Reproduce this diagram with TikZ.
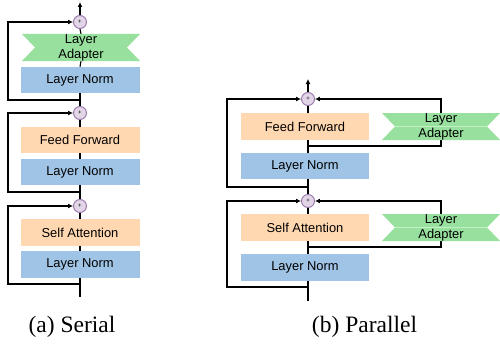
\documentclass[tikz,border=0pt]{standalone}
\usepackage{fontspec}
\setmainfont{Liberation Serif}
\newfontfamily\sansf{Liberation Sans}
\usetikzlibrary{arrows.meta}
\pgfdeclarelayer{bg}
\pgfdeclarelayer{mid}
\pgfsetlayers{bg,mid,main}
\definecolor{lnblue}{RGB}{160,196,230}
\definecolor{ffora}{RGB}{255,216,178}
\definecolor{adgreen}{RGB}{152,224,158}
\definecolor{adline}{RGB}{196,240,198}
\definecolor{cfill}{RGB}{225,213,231}
\definecolor{cdraw}{RGB}{150,115,166}
\newcommand\myribbon[2]{%
  \begin{pgfonlayer}{mid}
    \fill[adgreen] (#1.north west) -- (#1.north east) -- ([xshift=-13pt]#1.east) -- (#1.south east) -- (#1.south west) -- ([xshift=13pt]#1.west) -- cycle;
    \ifx#2y\draw[adline, line width=0.6pt] ([xshift=13pt]#1.west) -- ([xshift=-13pt]#1.east);\fi
  \end{pgfonlayer}}
\tikzset{
  boxfont/.style={font=\sansf\fontsize{12.9}{15}\selectfont},
  serbox/.style={boxfont, minimum width=119pt, minimum height=26.5pt, inner sep=0pt, outer sep=0pt},
  parbox/.style={boxfont, minimum width=128pt, minimum height=26.5pt, inner sep=0pt, outer sep=0pt},
  lnbox/.style={fill=lnblue},
  ffbox/.style={fill=ffora},
  adbox/.style={boxfont, minimum width=118pt, minimum height=27pt, inner sep=0pt, outer sep=0pt, align=center},
  addc/.style={circle, fill=cfill, draw=cdraw, line width=0.9pt, minimum size=13pt, inner sep=0pt, font=\sansf\fontsize{6}{6}\selectfont},
  conn/.style={line width=1.1pt, black},
  arr/.style={conn, -{Latex[length=5pt,width=5pt]}},
  capt/.style={font=\fontsize{23.5}{26}\selectfont, anchor=base, inner sep=0pt}
}
\begin{document}
\begin{tikzpicture}[x=1pt,y=-1pt]
\useasboundingbox (0,0) rectangle (500,345);
% ---------- (a) Serial ----------
\coordinate (stopa) at (80,2);
\node[addc] (c1) at (80,22) {+};
\node[adbox] (ad1) at (81,47.5) {Layer\\Adapter};
\myribbon{ad1}{n}
\node[serbox, lnbox] (ln1) at (80,80) {Layer Norm};
\coordinate (r1) at (80,100);
\node[addc] (c2) at (80,113) {+};
\node[serbox, ffbox] (ff1) at (80,140) {Feed Forward};
\node[serbox, lnbox] (ln2) at (80,172) {Layer Norm};
\coordinate (r2) at (80,192);
\node[addc] (c3) at (80,206) {+};
\node[serbox, ffbox] (sa1) at (80,232.5) {Self Attention};
\node[serbox, lnbox] (ln3) at (80,264.5) {Layer Norm};
\coordinate (r3) at (80,284);
\coordinate (sbota) at (80,297);
\begin{pgfonlayer}{bg}
  \draw[conn] (sbota) -- (r3) -- (ln3.south);
  \draw[conn] (ln3.north) -- (sa1.south);
  \draw[conn] (sa1.north) -- (c3.south);
  \draw[conn] (c3.north) -- (r2) -- (ln2.south);
  \draw[conn] (ln2.north) -- (ff1.south);
  \draw[conn] (ff1.north) -- (c2.south);
  \draw[conn] (c2.north) -- (r1) -- (ln1.south);
  \draw[conn] (ln1.north) -- (ad1.south);
  \draw[conn] (ad1.north) -- (c1.south);
  \draw[arr] (c1.north) -- (stopa);
  \draw[arr] (r3) -- (8,284) |- (c3.west);
  \draw[arr] (r2) -- (8,192) |- (c2.west);
  \draw[arr] (r1) -- (8,100) |- (c1.west);
\end{pgfonlayer}
% ---------- (b) Parallel ----------
\coordinate (stopb) at (308,79);
\node[addc] (ca) at (308,99) {+};
\node[parbox, ffbox] (ff2) at (305,126.5) {Feed Forward};
\node[adbox] (ada) at (441,126.5) {Layer\\Adapter};
\myribbon{ada}{y}
\coordinate (ba) at (308,146);
\node[parbox, lnbox] (lna) at (305,166) {Layer Norm};
\coordinate (rb1) at (308,187);
\node[addc] (cb) at (308,201) {+};
\node[parbox, ffbox] (sa2) at (305,227.5) {Self Attention};
\node[adbox] (adb) at (441,227.5) {Layer\\Adapter};
\myribbon{adb}{y}
\coordinate (bb) at (308,247);
\node[parbox, lnbox] (lnb) at (305,267.5) {Layer Norm};
\coordinate (rb2) at (308,287);
\coordinate (sbotb) at (308,301);
\begin{pgfonlayer}{bg}
  \draw[conn] (sbotb) -- (rb2) -- (lnb.south -| sbotb);
  \draw[conn] (lnb.north -| sbotb) -- (bb) -- (sa2.south -| sbotb);
  \draw[conn] (sa2.north -| sbotb) -- (cb.south);
  \draw[conn] (cb.north) -- (rb1) -- (lna.south -| sbotb);
  \draw[conn] (lna.north -| sbotb) -- (ba) -- (ff2.south -| sbotb);
  \draw[conn] (ff2.north -| sbotb) -- (ca.south);
  \draw[arr] (ca.north) -- (stopb);
  \draw[arr] (rb2) -- (227,287) |- (cb.west);
  \draw[arr] (rb1) -- (227,187) |- (ca.west);
  \draw[arr] (bb) -| (adb.center) |- (cb.east);
  \draw[arr] (ba) -| (ada.center) |- (ca.east);
\end{pgfonlayer}
% captions
\node[capt] (capa) at (72,332) {(a) Serial};
\node[capt] (capb) at (364.5,332) {(b) Parallel};
\end{tikzpicture}
\end{document}
